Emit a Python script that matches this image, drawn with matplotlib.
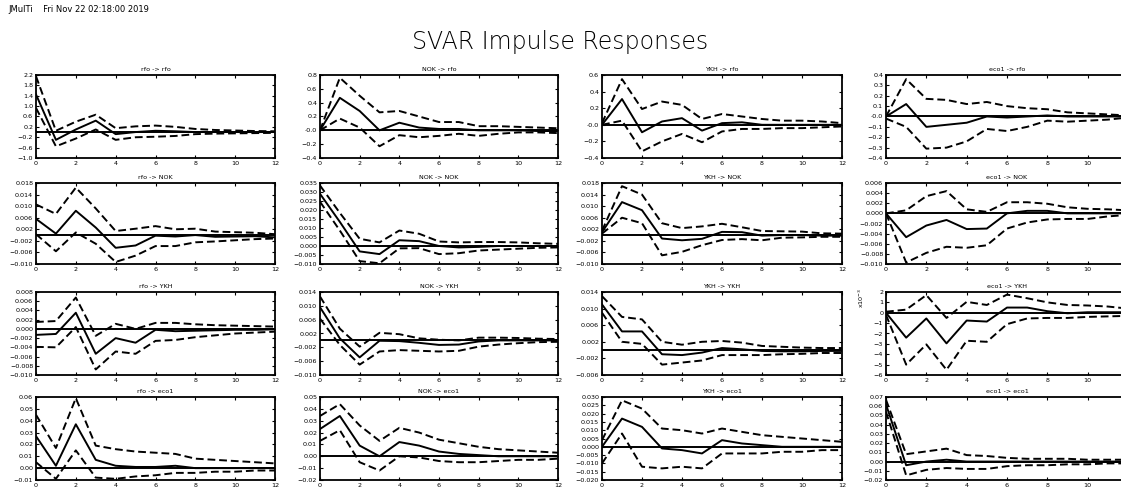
import numpy as np
import matplotlib
matplotlib.use("Agg")
import matplotlib.pyplot as plt

# horizons 0..12
steps = list(range(13))
names = ["rfo", "NOK", "YKH", "eco1"]

# ---- responses of rfo (row 1) ----
rfo_rfo = [1.45, -0.30, 0.10, 0.44, -0.08, 0.00, 0.05, 0.03, 0.00, 0.00, 0.00, 0.00, 0.00]
rfo_rfo_hi = [2.15, 0.05, 0.40, 0.67, 0.15, 0.22, 0.25, 0.20, 0.12, 0.08, 0.06, 0.04, 0.03]
rfo_rfo_lo = [0.93, -0.55, -0.25, 0.10, -0.30, -0.20, -0.18, -0.15, -0.08, -0.06, -0.05, -0.04, -0.03]

nok_rfo = [0.00, 0.47, 0.28, 0.00, 0.11, 0.04, 0.02, 0.02, 0.00, 0.00, 0.00, -0.01, -0.01]
nok_rfo_hi = [0.00, 0.76, 0.50, 0.26, 0.28, 0.20, 0.12, 0.12, 0.06, 0.06, 0.05, 0.04, 0.03]
nok_rfo_lo = [0.00, 0.17, 0.04, -0.23, -0.07, -0.10, -0.08, -0.05, -0.08, -0.05, -0.03, -0.03, -0.04]

ykh_rfo = [0.00, 0.31, -0.09, 0.04, 0.08, -0.07, 0.02, 0.03, 0.00, 0.00, 0.00, 0.00, 0.00]
ykh_rfo_hi = [0.02, 0.55, 0.19, 0.28, 0.24, 0.07, 0.13, 0.10, 0.07, 0.05, 0.05, 0.04, 0.02]
ykh_rfo_lo = [0.00, 0.05, -0.32, -0.20, -0.11, -0.21, -0.08, -0.05, -0.05, -0.04, -0.04, -0.03, -0.02]

eco_rfo = [0.00, 0.12, -0.10, -0.08, -0.06, 0.00, -0.01, 0.00, 0.01, 0.00, 0.00, 0.00, 0.00]
eco_rfo_hi = [0.00, 0.36, 0.17, 0.16, 0.12, 0.14, 0.10, 0.08, 0.07, 0.04, 0.03, 0.02, 0.01]
eco_rfo_lo = [-0.02, -0.10, -0.31, -0.30, -0.24, -0.12, -0.14, -0.10, -0.04, -0.05, -0.04, -0.03, -0.01]

# ---- responses of NOK (row 2) ----
rfo_nok = [0.0056, 0.0005, 0.0084, 0.0026, -0.0044, -0.0036, -0.0002, -0.0005, 0.0000, -0.0006, -0.0005, -0.0004, -0.0008]
rfo_nok_hi = [0.0106, 0.0073, 0.0164, 0.0092, 0.0014, 0.0022, 0.0031, 0.0020, 0.0022, 0.0012, 0.0010, 0.0008, 0.0003]
rfo_nok_lo = [0.0003, -0.0056, 0.0009, -0.0030, -0.0093, -0.0071, -0.0038, -0.0038, -0.0025, -0.0022, -0.0018, -0.0014, -0.0012]

nok_nok = [0.0290, 0.0134, -0.0030, -0.0045, 0.0032, 0.0027, 0.0000, -0.0008, -0.0005, 0.0000, 0.0000, 0.0000, 0.0000]
nok_nok_hi = [0.0336, 0.0184, 0.0040, 0.0020, 0.0086, 0.0068, 0.0025, 0.0020, 0.0022, 0.0022, 0.0020, 0.0015, 0.0012]
nok_nok_lo = [0.0246, 0.0086, -0.0084, -0.0096, -0.0013, -0.0012, -0.0045, -0.0040, -0.0025, -0.0020, -0.0015, -0.0010, -0.0008]

ykh_nok = [0.0010, 0.0114, 0.0086, -0.0012, -0.0018, -0.0013, 0.0011, 0.0010, -0.0002, 0.0000, 0.0000, -0.0002, -0.0002]
ykh_nok_hi = [0.0015, 0.0169, 0.0140, 0.0041, 0.0024, 0.0030, 0.0039, 0.0027, 0.0014, 0.0013, 0.0012, 0.0006, 0.0005]
ykh_nok_lo = [0.0005, 0.0060, 0.0041, -0.0070, -0.0058, -0.0035, -0.0017, -0.0014, -0.0018, -0.0009, -0.0008, -0.0006, -0.0006]

eco_nok = [0.0000, -0.0047, -0.0024, -0.0013, -0.0031, -0.0030, 0.0000, 0.0005, 0.0005, 0.0000, 0.0000, 0.0000, 0.0000]
eco_nok_hi = [0.0000, 0.0006, 0.0034, 0.0044, 0.0008, 0.0003, 0.0022, 0.0022, 0.0019, 0.0012, 0.0009, 0.0008, 0.0006]
eco_nok_lo = [0.0000, -0.0097, -0.0078, -0.0066, -0.0068, -0.0063, -0.0030, -0.0018, -0.0012, -0.0011, -0.0011, -0.0006, -0.0003]

# ---- responses of YKH (row 3) ----
rfo_ykh = [-0.0013, -0.0011, 0.0035, -0.0054, -0.0020, -0.0030, -0.0002, -0.0005, -0.0004, -0.0003, -0.0002, -0.0002, -0.0001]
rfo_ykh_hi = [0.0015, 0.0017, 0.0068, -0.0015, 0.0011, 0.0000, 0.0013, 0.0013, 0.0010, 0.0008, 0.0007, 0.0006, 0.0005]
rfo_ykh_lo = [-0.0039, -0.0040, 0.0004, -0.0088, -0.0049, -0.0054, -0.0026, -0.0024, -0.0018, -0.0014, -0.0010, -0.0008, -0.0006]

nok_ykh = [0.0096, 0.0006, -0.0049, -0.0001, -0.0002, -0.0007, -0.0013, -0.0012, -0.0003, 0.0000, 0.0000, 0.0000, 0.0000]
nok_ykh_hi = [0.0127, 0.0034, -0.0018, 0.0022, 0.0018, 0.0006, 0.0002, 0.0000, 0.0008, 0.0008, 0.0007, 0.0005, 0.0004]
nok_ykh_lo = [0.0063, -0.0013, -0.0070, -0.0032, -0.0028, -0.0030, -0.0032, -0.0030, -0.0018, -0.0012, -0.0008, -0.0005, -0.0004]

ykh_ykh = [0.0110, 0.0045, 0.0045, -0.0010, -0.0012, -0.0006, 0.0005, 0.0002, -0.0002, -0.0003, -0.0003, -0.0002, -0.0002]
ykh_ykh_hi = [0.0130, 0.0080, 0.0074, 0.0020, 0.0013, 0.0020, 0.0022, 0.0018, 0.0010, 0.0008, 0.0006, 0.0005, 0.0005]
ykh_ykh_lo = [0.0090, 0.0020, 0.0015, -0.0035, -0.0030, -0.0025, -0.0012, -0.0012, -0.0012, -0.0010, -0.0009, -0.0007, -0.0007]

# eco1 -> YKH in units of 1e-3
eco_ykh = [0.00, -2.40, -0.55, -2.95, -0.75, -0.85, 0.50, 0.50, 0.15, -0.05, 0.05, 0.05, 0.05]
eco_ykh_hi = [0.10, 0.30, 1.70, -0.50, 1.05, 0.75, 1.75, 1.40, 1.00, 0.75, 0.70, 0.60, 0.40]
eco_ykh_lo = [-0.20, -5.00, -3.05, -5.50, -2.70, -2.80, -1.10, -0.55, -0.50, -0.50, -0.40, -0.35, -0.30]

# ---- responses of eco1 (row 4) ----
rfo_eco = [0.027, 0.002, 0.037, 0.007, 0.002, 0.001, 0.001, 0.002, 0.000, 0.000, 0.000, 0.000, 0.000]
rfo_eco_hi = [0.045, 0.017, 0.059, 0.019, 0.016, 0.014, 0.013, 0.012, 0.008, 0.007, 0.006, 0.005, 0.004]
rfo_eco_lo = [0.005, -0.009, 0.015, -0.008, -0.009, -0.007, -0.006, -0.004, -0.004, -0.003, -0.003, -0.002, -0.002]

nok_eco = [0.023, 0.034, 0.009, 0.000, 0.012, 0.009, 0.004, 0.002, 0.001, 0.000, 0.000, 0.000, 0.000]
nok_eco_hi = [0.034, 0.044, 0.026, 0.013, 0.024, 0.020, 0.014, 0.011, 0.008, 0.006, 0.005, 0.004, 0.003]
nok_eco_lo = [0.013, 0.022, -0.005, -0.012, 0.000, -0.001, -0.004, -0.005, -0.005, -0.004, -0.003, -0.003, -0.002]

ykh_eco = [0.000, 0.017, 0.012, -0.001, -0.002, -0.004, 0.004, 0.002, 0.001, 0.000, 0.000, 0.000, 0.000]
ykh_eco_hi = [0.004, 0.028, 0.023, 0.011, 0.010, 0.008, 0.011, 0.009, 0.007, 0.006, 0.005, 0.004, 0.003]
ykh_eco_lo = [-0.010, 0.008, -0.012, -0.013, -0.012, -0.013, -0.004, -0.004, -0.004, -0.003, -0.003, -0.002, -0.002]

eco_eco = [0.062, -0.004, 0.000, 0.002, 0.000, 0.000, 0.000, 0.000, 0.000, 0.000, 0.000, 0.000, 0.000]
eco_eco_hi = [0.067, 0.008, 0.011, 0.014, 0.007, 0.006, 0.004, 0.003, 0.003, 0.003, 0.002, 0.002, 0.002]
eco_eco_lo = [0.054, -0.015, -0.009, -0.007, -0.008, -0.008, -0.005, -0.004, -0.004, -0.003, -0.003, -0.002, -0.002]

grid = [
    [(rfo_rfo, rfo_rfo_lo, rfo_rfo_hi), (nok_rfo, nok_rfo_lo, nok_rfo_hi),
     (ykh_rfo, ykh_rfo_lo, ykh_rfo_hi), (eco_rfo, eco_rfo_lo, eco_rfo_hi)],
    [(rfo_nok, rfo_nok_lo, rfo_nok_hi), (nok_nok, nok_nok_lo, nok_nok_hi),
     (ykh_nok, ykh_nok_lo, ykh_nok_hi), (eco_nok, eco_nok_lo, eco_nok_hi)],
    [(rfo_ykh, rfo_ykh_lo, rfo_ykh_hi), (nok_ykh, nok_ykh_lo, nok_ykh_hi),
     (ykh_ykh, ykh_ykh_lo, ykh_ykh_hi), (eco_ykh, eco_ykh_lo, eco_ykh_hi)],
    [(rfo_eco, rfo_eco_lo, rfo_eco_hi), (nok_eco, nok_eco_lo, nok_eco_hi),
     (ykh_eco, ykh_eco_lo, ykh_eco_hi), (eco_eco, eco_eco_lo, eco_eco_hi)],
]

# y axis: (min, max, step, decimals, show zero as -0.0)
yaxes = [
    [(-1.0, 2.2, 0.4, 1, True), (-0.4, 0.8, 0.2, 1, True), (-0.4, 0.6, 0.2, 1, True), (-0.4, 0.4, 0.1, 1, True)],
    [(-0.010, 0.018, 0.004, 3, False), (-0.010, 0.035, 0.005, 3, False),
     (-0.010, 0.018, 0.004, 3, False), (-0.010, 0.006, 0.002, 3, False)],
    [(-0.010, 0.008, 0.002, 3, False), (-0.010, 0.014, 0.004, 3, False),
     (-0.006, 0.014, 0.004, 3, False), (-6, 2, 1, 0, False)],
    [(-0.01, 0.06, 0.01, 2, False), (-0.02, 0.05, 0.01, 2, False),
     (-0.020, 0.030, 0.005, 3, False), (-0.02, 0.07, 0.01, 2, False)],
]


def fmt_tick(v, dec, negzero):
    if abs(v) < 1e-9:
        return ("-" if negzero else "") + f"{0:.{dec}f}"
    s = f"{abs(v):.{dec}f}"
    return ("\u2212" + s) if v < 0 else s


W, H = 1121, 490
fig = plt.figure(figsize=(W / 100, H / 100), dpi=100)

col_left = [36, 320, 602, 886]
col_w = [239, 238, 240, 242]
row_top = [75, 183, 292, 397]
row_h = [83, 81, 83, 83]

for r in range(4):
    for c in range(4):
        ax = fig.add_axes([col_left[c] / W, 1 - (row_top[r] + row_h[r]) / H,
                           col_w[c] / W, row_h[r] / H])
        pt, lo, hi = grid[r][c]
        ax.axhline(0, color="k", lw=1.4)
        ax.plot(steps, pt, color="k", lw=1.4)
        ax.plot(steps, lo, color="k", lw=1.4, ls=(0, (4, 2)))
        ax.plot(steps, hi, color="k", lw=1.4, ls=(0, (4, 2)))
        ymin, ymax, st, dec, nz = yaxes[r][c]
        ticks = np.arange(ymin, ymax + st / 2, st)
        ax.set_ylim(ymin, ymax)
        ax.set_yticks(ticks)
        ax.set_yticklabels([fmt_tick(t, dec, nz) for t in ticks])
        ax.set_xlim(0, 12)
        # last column runs past the right edge of the picture
        ax.set_xticks(range(0, 11 if c == 3 else 13, 2))
        ax.tick_params(direction="in", length=2.5, width=0.8, labelsize=4.6,
                       top=True, right=True, pad=2)
        for sp in ax.spines.values():
            sp.set_linewidth(1.3)
        ax.set_title(f"{names[c]} -> {names[r]}", fontsize=4.6, pad=3)
        if r == 2 and c == 3:
            ax.text(-0.1, 0.93, "x10$^{-3}$", transform=ax.transAxes,
                    rotation=90, fontsize=4.6, ha="center", va="center")

fig.text(8 / W, 1 - 10 / H, "JMulTi    Fri Nov 22 02:18:00 2019",
         fontsize=6, va="center", ha="left")
fig.text(0.5, 1 - 42 / H, "SVAR Impulse Responses", fontsize=17,
         ha="center", va="center", color="k", fontweight="light")

fig.savefig("out.png", dpi=100)
